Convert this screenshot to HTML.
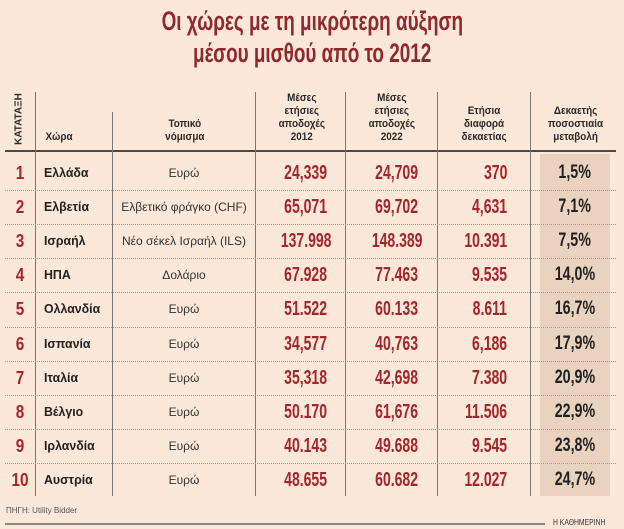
<!DOCTYPE html>
<html><head><meta charset="utf-8">
<style>
html,body{margin:0;padding:0}
body{width:624px;height:529px;background:#fbe8d8;position:relative;overflow:hidden;font-family:"Liberation Sans","DejaVu Sans",sans-serif}
.abs{position:absolute}
.t{position:absolute;white-space:nowrap;transform-origin:center center}
.title{left:0;width:624px;text-align:center;color:#8e2a2d;font-size:27px;font-weight:bold}
.title span{display:inline-block;transform:scaleX(0.7)}
.hd{position:absolute;text-align:center;font-size:11px;font-weight:bold;color:#2a2a2a;line-height:13px}
.hd span{display:inline-block;transform:scaleX(0.9)}
.cell{position:absolute;height:34px;line-height:34px;white-space:nowrap}
.cell span{display:inline-block}
</style></head>
<body>
<div class="t title" style="top:6px"><span>Οι χώρες με τη μικρότερη αύξηση</span></div>
<div class="t title" style="top:38px"><span>μέσου μισθού από το 2012</span></div>

<div class="abs" style="left:540px;top:154px;width:70px;height:342px;background:#e9d3bf"></div>
<div class="abs" style="left:5px;top:150px;width:611px;height:2px;background:#4a4a4a"></div>

<div class="abs" style="left:10px;top:92px;width:18px;height:55px">
 <div style="position:absolute;left:9px;top:27px;transform:translate(-50%,-50%) rotate(-90deg);font-size:10px;font-weight:bold;color:#2a2a2a;white-space:nowrap">ΚΑΤΑΤΑΞΗ</div>
</div>
<div class="hd" style="left:44px;top:131px;text-align:left"><span>Χώρα</span></div>
<div class="hd" style="left:120px;width:130px;top:118px"><span>Τοπικό<br>νόμισμα</span></div>
<div class="hd" style="left:258px;width:88px;top:92px"><span>Μέσες<br>ετήσιες<br>αποδοχές<br>2012</span></div>
<div class="hd" style="left:347px;width:90px;top:92px"><span>Μέσες<br>ετήσιες<br>αποδοχές<br>2022</span></div>
<div class="hd" style="left:438px;width:92px;top:105px"><span>Ετήσια<br>διαφορά<br>δεκαετίας</span></div>
<div class="hd" style="left:532px;width:88px;top:105px"><span>Δεκαετής<br>ποσοστιαία<br>μεταβολή</span></div>

<div id="grid"></div>

<div class="abs" style="left:6px;top:506px;font-size:8px;color:#555">ΠΗΓΗ: Utility Bidder</div>
<div class="abs" style="left:5px;top:523px;width:540px;height:2px;background:#888"></div>
<div class="abs" style="left:553px;top:518px;font-size:8px;color:#333;transform:scaleX(0.85);transform-origin:left">Η ΚΑΘΗΜΕΡΙΝΗ</div>

<script>
const ranks = ["1","2","3","4","5","6","7","8","9","10"];
const countries = ["Ελλάδα","Ελβετία","Ισραήλ","ΗΠΑ","Ολλανδία","Ισπανία","Ιταλία","Βέλγιο","Ιρλανδία","Αυστρία"];
const currencies = ["Ευρώ","Ελβετικό φράγκο (CHF)","Νέο σέκελ Ισραήλ (ILS)","Δολάριο","Ευρώ","Ευρώ","Ευρώ","Ευρώ","Ευρώ","Ευρώ"];
const wages2012 = ["24,339","65,071","137.998","67.928","51.522","34,577","35,318","50.170","40.143","48.655"];
const wages2022 = ["24,709","69,702","148.389","77.463","60.133","40,763","42,698","61,676","49.688","60.682"];
const diffs = ["370","4,631","10.391","9.535","8.611","6,186","7.380","11.506","9.545","12.027"];
const pcts = ["1,5%","7,1%","7,5%","14,0%","16,7%","17,9%","20,9%","22,9%","23,8%","24,7%"];

const grid = document.getElementById('grid');
const top0 = 156, rowH = 34.1;
function add(html, style){
  const d = document.createElement('div');
  d.className = 'cell';
  d.setAttribute('style', style);
  d.innerHTML = html;
  grid.appendChild(d);
  return d;
}
const vlines = [[35,92],[112,112],[255,92],[345,92],[437,92],[530,92]];
vlines.forEach(v=>{
  const l = document.createElement('div');
  
  
  l.className='abs';
  l.setAttribute('style',`left:${v[0]}px;top:${v[1]}px;width:1px;height:${496-v[1]}px;background:#777`);
  grid.appendChild(l);
});
ranks.forEach((r,i)=>{
  const y = top0 + i*rowH;
  if(i<ranks.length-1){
    const s = document.createElement('div');
    
    
    s.className='abs';
    s.setAttribute('style',`left:5px;top:${(y+rowH).toFixed(1)}px;width:611px;height:0;border-top:1px dotted #999`);
    grid.appendChild(s);
  }
  let e;
  e = add(`<span style="transform:scaleX(0.85)">${r}</span>`, `left:5px;width:30px;top:${y}px;text-align:center;color:#a3262c;font-weight:bold;font-size:18px`);
  
  
  e = add(`<span style="transform:scaleX(0.95);transform-origin:left">${countries[i]}</span>`, `left:44px;top:${y}px;color:#222;font-weight:bold;font-size:13px`);
  
  
  e = add(`<span>${currencies[i]}</span>`, `left:113px;width:142px;top:${y}px;text-align:center;color:#333;font-size:12px`);
  
  
  e = add(`<span style="transform:scaleX(0.7)">${wages2012[i]}</span>`, `left:256px;width:100px;top:${y}px;text-align:center;color:#a3262c;font-weight:bold;font-size:20px`);
  
  
  e = add(`<span style="transform:scaleX(0.7)">${wages2022[i]}</span>`, `left:346px;width:102px;top:${y}px;text-align:center;color:#a3262c;font-weight:bold;font-size:20px`);
  
  
  e = add(`<span style="transform:scaleX(0.7);transform-origin:right">${diffs[i]}</span>`, `left:438px;width:69px;top:${y}px;text-align:right;color:#a3262c;font-weight:bold;font-size:20px`);
  
  
  e = add(`<span style="transform:scaleX(0.75)">${pcts[i]}</span>`, `left:540px;width:70px;top:${y}px;text-align:center;color:#222;font-weight:bold;font-size:19px`);
  
  
});
</script>
</body></html>
